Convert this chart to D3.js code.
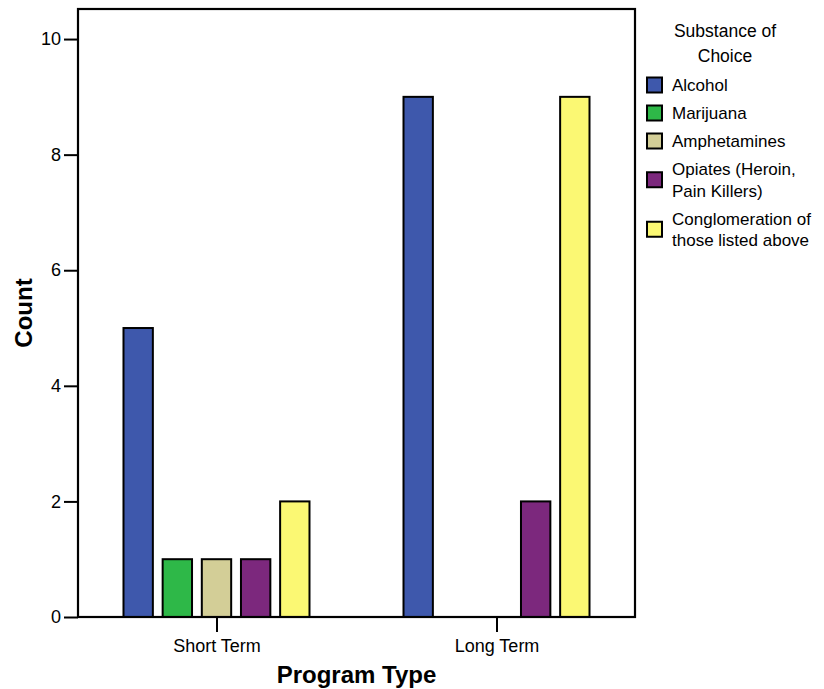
<!DOCTYPE html>
<html><head><meta charset="utf-8">
<script src="https://cdn.jsdelivr.net/npm/d3@7"></script>
<style>body{margin:0;background:#fff}text{font-family:"Liberation Sans",Arial,sans-serif;fill:#000}</style>
</head><body><svg id="c" width="824" height="689"></svg>
<script>
const categories = ["Short Term", "Long Term"];
const seriesNames = ["Alcohol", "Marijuana", "Amphetamines", "Opiates (Heroin, Pain Killers)", "Conglomeration of those listed above"];
const legendLines = [["Alcohol"], ["Marijuana"], ["Amphetamines"], ["Opiates (Heroin,", "Pain Killers)"], ["Conglomeration of", "those listed above"]];
const colors = ["#3e58ac", "#2eb848", "#d3ce97", "#7c287d", "#fbf873"];
const alcohol = [5, 9];
const marijuana = [1, 0];
const amphetamines = [1, 0];
const opiates = [1, 2];
const conglomeration = [2, 9];
const yTicks = [0, 2, 4, 6, 8, 10];
const seriesValues = [alcohol, marijuana, amphetamines, opiates, conglomeration];

const svg = d3.select("#c");
const L = 78, R = 635, T = 9, B = 617;
const x = d3.scalePoint().domain(categories).range([L, R]).padding(0.4946);
const inner = d3.scaleBand().domain(d3.range(seriesNames.length)).range([-93, 93]).paddingInner(0.25);
const y = d3.scaleLinear().domain([0, 10.52]).range([B, T]);

// bars
const data = [];
categories.forEach((c, ci) => seriesValues.forEach((s, si) => data.push({c, si, v: s[ci]})));
svg.append("g").selectAll("rect").data(data).join("rect")
  .attr("x", d => x(d.c) + inner(d.si))
  .attr("width", inner.bandwidth())
  .attr("y", d => y(d.v))
  .attr("height", d => y(0) - y(d.v))
  .attr("fill", d => colors[d.si])
  .attr("stroke", "#000").attr("stroke-width", 2);

// frame
svg.append("rect").attr("x", L).attr("y", T).attr("width", R - L).attr("height", B - T)
  .attr("fill", "none").attr("stroke", "#000").attr("stroke-width", 2.2);

// y axis
const ya = svg.append("g").attr("transform", `translate(${L},0)`)
  .call(d3.axisLeft(y).tickValues(yTicks).tickSize(14).tickPadding(3).tickFormat(d3.format("d")));
ya.select(".domain").remove();
ya.selectAll("line").attr("stroke", "#000").attr("stroke-width", 2);
ya.selectAll("text").attr("font-size", 18).attr("font-family", "Liberation Sans, Arial, sans-serif").attr("fill", "#000");

// x axis
const xa = svg.append("g").attr("transform", `translate(0,${B})`)
  .call(d3.axisBottom(x).tickSize(15).tickPadding(7));
xa.select(".domain").remove();
xa.selectAll("line").attr("stroke", "#000").attr("stroke-width", 2);
xa.selectAll("text").attr("font-size", 18).attr("font-family", "Liberation Sans, Arial, sans-serif").attr("fill", "#000");

// axis titles
svg.append("text").attr("x", (L + R) / 2).attr("y", 683).attr("text-anchor", "middle")
  .attr("font-size", 24).attr("font-weight", "bold").text("Program Type");
svg.append("text").attr("transform", `translate(32,${(T + B) / 2}) rotate(-90)`).attr("text-anchor", "middle")
  .attr("font-size", 24).attr("font-weight", "bold").text("Count");

// legend
const lg = svg.append("g");
lg.append("text").attr("x", 725).attr("y", 37).attr("text-anchor", "middle").attr("font-size", 17.5).text("Substance of");
lg.append("text").attr("x", 725).attr("y", 62).attr("text-anchor", "middle").attr("font-size", 17.5).text("Choice");
let legTop = 71;
const lh = 21.5;
legendLines.forEach((lines, i) => {
  const h = lines.length * lh + 6.5;
  const cy = legTop + h / 2;
  lg.append("rect").attr("x", 647).attr("y", cy - 7.5).attr("width", 15).attr("height", 15)
    .attr("fill", colors[i]).attr("stroke", "#000").attr("stroke-width", 2);
  lines.forEach((t, k) => {
    lg.append("text").attr("x", 672).attr("y", cy + (k - (lines.length - 1) / 2) * lh + 6)
      .attr("font-size", 17).text(t);
  });
  legTop += h;
});
</script></body></html>
